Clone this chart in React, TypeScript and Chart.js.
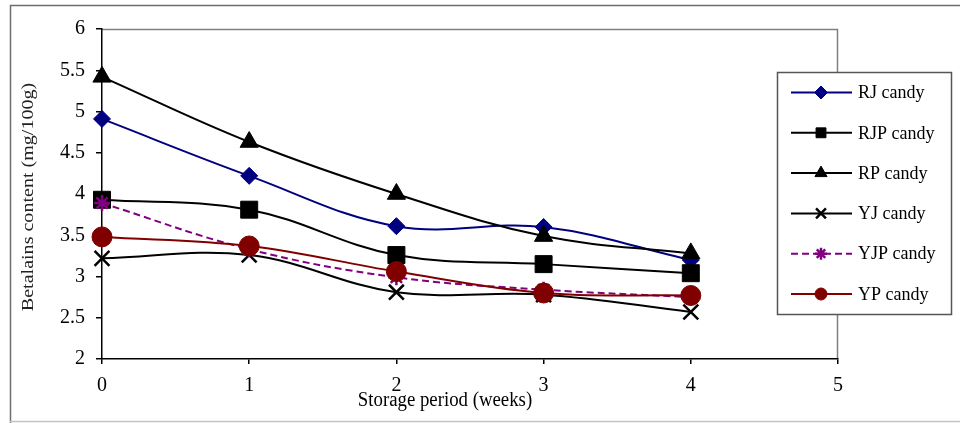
import React, { useEffect, useRef } from "react";
import { Chart, registerables } from "chart.js";
import { drawPoint } from "chart.js/helpers";

Chart.register(...registerables);

// Storage weeks and betalain readings (mg/100g) for each candy type
const weeks = [0, 1, 2, 3, 4];
const seriesNames = ["RJ candy", "RJP candy", "RP candy", "YJ candy", "YJP candy", "YP candy"];
const rjValues = [4.91, 4.22, 3.61, 3.6, 3.2];
const rjpValues = [3.93, 3.81, 3.26, 3.15, 3.04];
const rpValues = [5.42, 4.63, 4.0, 3.49, 3.28];
const yjValues = [3.22, 3.26, 2.81, 2.78, 2.57];
const yjpValues = [3.89, 3.33, 2.99, 2.84, 2.75];
const ypValues = [3.48, 3.37, 3.06, 2.8, 2.77];
const xTickValues = [0, 1, 2, 3, 4, 5];
const yTickValues = [2, 2.5, 3, 3.5, 4, 4.5, 5, 5.5, 6];

const xTitle = "Storage period (weeks)";
const yTitle = "Betalains content (mg/100g)";

const SERIF = "'Liberation Serif', 'Times New Roman', serif";

type Style = {
  color: string;
  marker: string;
  radius: number;
  legendRadius: number;
  dash: number[];
};

const styles: Style[] = [
  { color: "#000080", marker: "rectRot", radius: 8.5, legendRadius: 6.5, dash: [] },
  { color: "#000000", marker: "rect", radius: 12, legendRadius: 7, dash: [] },
  { color: "#000000", marker: "triangle", radius: 10.5, legendRadius: 7, dash: [] },
  { color: "#000000", marker: "crossRot", radius: 10.5, legendRadius: 7, dash: [] },
  { color: "#800080", marker: "star", radius: 8, legendRadius: 6, dash: [7, 4] },
  { color: "#800000", marker: "circle", radius: 10, legendRadius: 6, dash: [] },
];

const seriesValues = [rjValues, rjpValues, rpValues, yjValues, yjpValues, ypValues];

const isStrokeMarker = (m: string) => m === "crossRot" || m === "star";

// Outer frame, plot frame, axis titles and the boxed legend
const decorations = {
  id: "decorations",
  beforeDraw(chart: any) {
    const ctx = chart.ctx;
    const { left, right, top, bottom } = chart.chartArea;
    ctx.save();
    ctx.fillStyle = "#ffffff";
    ctx.fillRect(0, 0, chart.width, chart.height);
    // outer frame
    ctx.strokeStyle = "#6e6e6e";
    ctx.lineWidth = 1.5;
    ctx.beginPath();
    ctx.moveTo(10.5, 423);
    ctx.lineTo(10.5, 5.5);
    ctx.lineTo(960, 5.5);
    ctx.stroke();
    ctx.strokeStyle = "#c4c4c4";
    ctx.beginPath();
    ctx.moveTo(10, 421.5);
    ctx.lineTo(960, 421.5);
    ctx.stroke();
    // plot frame (top and right)
    ctx.strokeStyle = "#808080";
    ctx.beginPath();
    ctx.moveTo(left, top + 0.5);
    ctx.lineTo(right - 0.5, top + 0.5);
    ctx.lineTo(right - 0.5, bottom);
    ctx.stroke();
    ctx.restore();
  },
  afterDraw(chart: any) {
    const ctx = chart.ctx;
    ctx.save();
    ctx.fillStyle = "#000000";
    ctx.textAlign = "center";
    ctx.textBaseline = "middle";

    // x axis title (slightly condensed, as in the source document)
    ctx.save();
    ctx.font = `20px ${SERIF}`;
    ctx.translate(445, 401);
    ctx.scale(0.94, 1);
    ctx.fillText(xTitle, 0, 0);
    ctx.restore();

    // y axis title
    ctx.save();
    ctx.fillStyle = "#222222";
    ctx.font = `17px ${SERIF}`;
    ctx.translate(29, 197);
    ctx.rotate(-Math.PI / 2);
    ctx.scale(1.18, 1);
    ctx.fillText(yTitle, 0, 0);
    ctx.restore();

    // legend box
    const bx = 777.5, by = 72.5, bw = 174, bh = 242;
    ctx.strokeStyle = "#555555";
    ctx.lineWidth = 1.5;
    ctx.fillStyle = "#ffffff";
    ctx.fillRect(bx, by, bw, bh);
    ctx.strokeRect(bx, by, bw, bh);

    const rowY0 = 92.5;
    const rowGap = 40.3;
    ctx.font = `18px ${SERIF}`;
    ctx.textAlign = "left";
    ctx.textBaseline = "middle";
    seriesNames.forEach((name, i) => {
      const s = styles[i];
      const y = rowY0 + i * rowGap;
      ctx.strokeStyle = s.color;
      ctx.lineWidth = 2;
      ctx.setLineDash(s.dash);
      ctx.beginPath();
      ctx.moveTo(791, y);
      ctx.lineTo(852, y);
      ctx.stroke();
      ctx.setLineDash([]);
      ctx.fillStyle = s.color;
      ctx.strokeStyle = s.color;
      const bw2 = isStrokeMarker(s.marker) ? 2.5 : 1;
      ctx.lineWidth = bw2;
      drawPoint(ctx, { pointStyle: s.marker, radius: s.legendRadius, rotation: 0, borderWidth: bw2 } as any, 821, y);
      ctx.fillStyle = "#000000";
      ctx.fillText(name, 858, y + 1);
    });
    ctx.restore();
  },
};

export default function App() {
  const canvasRef = useRef<HTMLCanvasElement | null>(null);

  useEffect(() => {
    document.body.style.margin = "0";
    const canvas = canvasRef.current;
    if (!canvas) return;

    const datasets = seriesNames.map((name, i) => {
      const s = styles[i];
      return {
        label: name,
        data: weeks.map((w, k) => ({ x: w, y: seriesValues[i][k] })),
        borderColor: s.color,
        backgroundColor: s.color,
        borderWidth: 2,
        borderDash: s.dash,
        tension: 0.38,
        clip: false,
        pointStyle: s.marker,
        pointRadius: s.radius,
        pointBorderWidth: isStrokeMarker(s.marker) ? 2.5 : 1,
        pointBorderColor: s.color,
        pointBackgroundColor: s.color,
        order: seriesNames.length - i,
      };
    });

    const chart = new Chart(canvas, {
      type: "line",
      data: { datasets },
      options: {
        animation: false,
        responsive: false,
        events: [],
        layout: { padding: { left: 0, top: 29, right: 122, bottom: 0 } },
        plugins: {
          legend: { display: false },
          tooltip: { enabled: false },
        },
        scales: {
          x: {
            type: "linear",
            min: 0,
            max: 5,
            afterBuildTicks: (scale: any) => {
              scale.ticks = xTickValues.map((v) => ({ value: v }));
            },
            afterFit: (scale: any) => {
              scale.height = 64;
            },
            grid: {
              display: true,
              drawOnChartArea: false,
              drawTicks: true,
              tickLength: 5,
              color: "#000000",
              lineWidth: 1.5,
            },
            border: { display: true, color: "#000000", width: 1.5 },
            ticks: {
              color: "#000000",
              padding: 10,
              maxRotation: 0,
              font: { family: SERIF, size: 20 },
              callback: (v: any) => String(v),
            },
          },
          y: {
            type: "linear",
            min: 2,
            max: 6,
            afterBuildTicks: (scale: any) => {
              scale.ticks = yTickValues.map((v) => ({ value: v }));
            },
            afterFit: (scale: any) => {
              scale.width = 102;
            },
            grid: {
              display: true,
              drawOnChartArea: false,
              drawTicks: true,
              tickLength: 6,
              color: "#000000",
              lineWidth: 1.5,
            },
            border: { display: true, color: "#000000", width: 1.5 },
            ticks: {
              color: "#000000",
              padding: 11,
              font: { family: SERIF, size: 20 },
              callback: (v: any) => String(v),
            },
          },
        },
      },
      plugins: [decorations],
    } as any);

    return () => chart.destroy();
  }, []);

  return (
    <div style={{ position: "fixed", left: 0, top: 0, width: 960, height: 423, background: "#fff" }}>
      <canvas ref={canvasRef} width={960} height={423} style={{ display: "block" }} />
    </div>
  );
}
